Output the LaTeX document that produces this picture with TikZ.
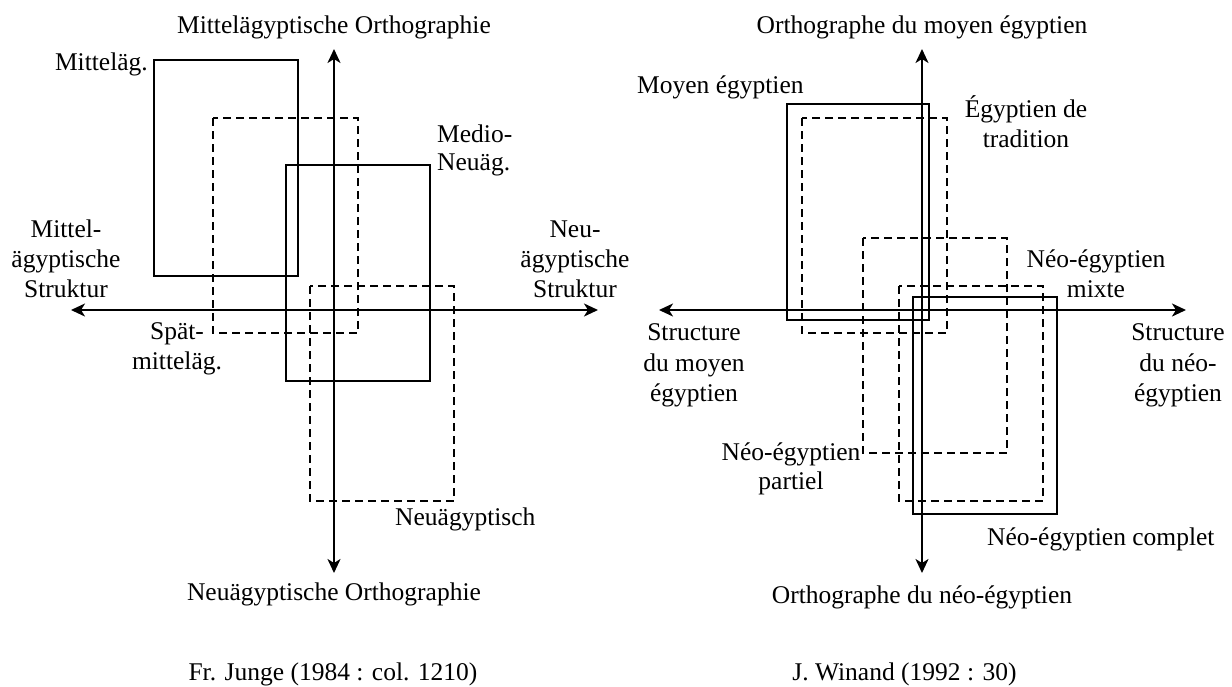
\documentclass[tikz,border=0pt]{standalone}
\usepackage{fontspec}
\setmainfont{Liberation Serif}
\usetikzlibrary{arrows.meta}
\tikzset{
  solidbox/.style={line width=2pt},
  dashbox/.style={line width=1.9pt, dash pattern=on 8pt off 5pt},
  axisline/.style={line width=2pt,
    arrows={Stealth[length=14pt,width=13pt,inset=4pt]-Stealth[length=14pt,width=13pt,inset=4pt]}},
  lbl/.style={inner sep=0pt, font=\fontsize{25.5}{30}\selectfont},
}
\begin{document}
\begin{tikzpicture}[x=1pt,y=-1pt]
\useasboundingbox (0,0) rectangle (1232,686);

% ---------------- Left diagram (Junge) ----------------
\coordinate (lN) at (334,49);
\coordinate (lS) at (334,573);
\coordinate (lW) at (71,310);
\coordinate (lE) at (598,310);
\draw[axisline] (lS) -- (lN);
\draw[axisline] (lW) -- (lE);

\draw[solidbox] (154,60) rectangle (298,276);
\draw[dashbox]  (213,118) rectangle (358,333);
\draw[solidbox] (286,165) rectangle (430,381);
\draw[dashbox]  (310,286) rectangle (454,501);

\node[lbl, anchor=base] (ltop) at (334,33) {Mittelägyptische Orthographie};
\node[lbl, anchor=base east] (lmit) at (148,70) {Mitteläg.};
\node[lbl, anchor=base west] (lmed1) at (437,142) {Medio-};
\node[lbl, anchor=base west] (lmed2) at (437,170) {Neuäg.};
\node[lbl, anchor=base] (lw1) at (66,237) {Mittel-};
\node[lbl, anchor=base] (lw2) at (66,267) {ägyptische};
\node[lbl, anchor=base] (lw3) at (66,297) {Struktur};
\node[lbl, anchor=base] (le1) at (575,237) {Neu-};
\node[lbl, anchor=base] (le2) at (575,267) {ägyptische};
\node[lbl, anchor=base] (le3) at (575,297) {Struktur};
\node[lbl, anchor=base] (lsp1) at (177,339) {Spät-};
\node[lbl, anchor=base] (lsp2) at (177,369) {mitteläg.};
\node[lbl, anchor=base west] (lneu) at (395,525) {Neuägyptisch};
\node[lbl, anchor=base] (lbot) at (334,600) {Neuägyptische Orthographie};
\node[lbl, anchor=base] (lcap) at (333,680) {Fr. Junge (1984 : col. 1210)};

% ---------------- Right diagram (Winand) ----------------
\coordinate (rN) at (922,49);
\coordinate (rS) at (922,573);
\coordinate (rW) at (659,310);
\coordinate (rE) at (1186,310);
\draw[axisline] (rS) -- (rN);
\draw[axisline] (rW) -- (rE);

\draw[solidbox] (787,104) rectangle (929,320);
\draw[dashbox]  (802,118) rectangle (947,333);
\draw[dashbox]  (863,238) rectangle (1007,453);
\draw[dashbox]  (899,286) rectangle (1043,501);
\draw[solidbox] (913,297) rectangle (1057,514);

\node[lbl, anchor=base] (rtop) at (922,33) {Orthographe du moyen égyptien};
\node[lbl, anchor=base west] (rme) at (637,93) {Moyen égyptien};
\node[lbl, anchor=base] (ret1) at (1026,117) {Égyptien de};
\node[lbl, anchor=base] (ret2) at (1026,147) {tradition};
\node[lbl, anchor=base] (rmx1) at (1096,267) {Néo-égyptien};
\node[lbl, anchor=base] (rmx2) at (1096,297) {mixte};
\node[lbl, anchor=base] (rw1) at (694,340) {Structure};
\node[lbl, anchor=base] (rw2) at (694,371) {du moyen};
\node[lbl, anchor=base] (rw3) at (694,401) {égyptien};
\node[lbl, anchor=base] (re1) at (1178,340) {Structure};
\node[lbl, anchor=base] (re2) at (1178,371) {du néo-};
\node[lbl, anchor=base] (re3) at (1178,401) {égyptien};
\node[lbl, anchor=base] (rpa1) at (791,460) {Néo-égyptien};
\node[lbl, anchor=base] (rpa2) at (791,489) {partiel};
\node[lbl, anchor=base west] (rco) at (987,545) {Néo-égyptien complet};
\node[lbl, anchor=base] (rbot) at (922,603) {Orthographe du néo-égyptien};
\node[lbl, anchor=base] (rcap) at (904.5,680) {J. Winand (1992 : 30)};
\end{tikzpicture}
\end{document}
